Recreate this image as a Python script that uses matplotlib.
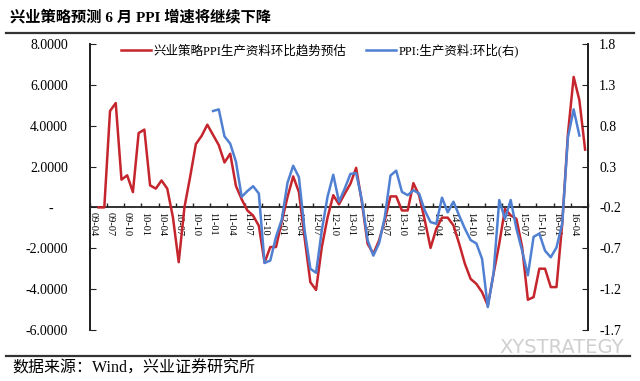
import matplotlib.pyplot as plt
import numpy as np
import pandas as pd
from matplotlib.lines import Line2D

# monthly categories 2009-04 .. 2016-06
months = pd.period_range("2009-04", "2016-06", freq="M")
tick_labels = ["09-04", "09-07", "09-10", "10-01", "10-04", "10-07", "10-10",
               "11-01", "11-04", "11-07", "11-10", "12-01", "12-04", "12-07",
               "12-10", "13-01", "13-04", "13-07", "13-10", "14-01", "14-04",
               "14-07", "14-10", "15-01", "15-04", "15-07", "15-10", "16-01",
               "16-04"]

# red: industrial strategy estimate (left axis), from 2009-05
red_start = "2009-05"
red = [0.0, 0.0, 4.72, 5.11, 1.36, 1.57, 0.75, 3.64, 3.81, 1.08,
       0.92, 1.32, 0.92, -0.5, -2.68, 0.0, 1.5, 3.1, 3.5, 4.05,
       3.55, 3.05, 2.2, 2.63, 1.05, 0.4, -0.15, -0.4, -0.9, -2.7,
       -1.94, -1.94, -0.7, 0.5, 1.52, 0.75, -1.5, -3.66, -4.04, -1.94,
       -0.5, 0.6, 0.15, 0.67, 1.16, 1.94, 0.26, -1.78, -2.27, -1.62,
       -0.64, 0.54, 0.54, -0.15, -0.15, 1.19, 0.59, -0.64, -1.98, -1.05,
       -0.5, -0.5, -0.88, -1.78, -2.76, -3.5, -3.74, -4.15, -4.8, -3.25,
       -1.78, -0.07, -0.39, -0.56, -1.94, -4.52, -4.39, -3.0, -3.0, -3.9,
       -3.9, -0.8, 3.6, 6.39, 5.25, 2.83]

# blue: PPI producer goods m/m (right axis), from 2011-01
blue_start = "2011-01"
blue = [0.98, 1.0, 0.67, 0.58, 0.36, -0.07, 0.0, 0.06, -0.03, -0.88,
        -0.85, -0.56, -0.35, 0.1, 0.31, 0.17, -0.48, -0.95, -1.0, -0.48,
        -0.07, 0.2, -0.13, 0.03, 0.21, 0.22, -0.11, -0.6, -0.79, -0.64,
        -0.32, 0.19, 0.25, -0.01, -0.05, 0.01, -0.03, -0.24, -0.38, -0.4,
        -0.08, -0.26, -0.13, -0.3, -0.46, -0.6, -0.64, -0.83, -1.42, -1.01,
        -0.11, -0.34, -0.11, -0.46, -0.73, -1.03, -0.56, -0.52, -0.73, -0.81,
        -0.69, -0.4, 0.66, 1.0, 0.68]

left_ticks = [-6, -4, -2, 0, 2, 4, 6, 8]
right_ticks = [-1.7, -1.2, -0.7, -0.2, 0.3, 0.8, 1.3, 1.8]

red_label = "兴业策略PPI生产资料环比趋势预估"
blue_label = "PPI:生产资料:环比(右)"
title = "兴业策略预测 6 月 PPI 增速将继续下降"
source = "数据来源：Wind，兴业证券研究所"

color_red = "#C5252C"
color_blue = "#5080D2"
axis_col = "#222222"
mixed = ["Liberation Serif", "Noto Sans CJK SC"]

x_all = np.arange(len(months))
x_red = x_all[list(months).index(pd.Period(red_start, "M")):][:len(red)]
x_blue = x_all[list(months).index(pd.Period(blue_start, "M")):][:len(blue)]
label_pos = [list(months.strftime("%y-%m")).index(t) for t in tick_labels]

fig = plt.figure(figsize=(6.4, 3.81), dpi=100)
ax = fig.add_axes([0.1406, 0.1339, 0.7781, 0.7506])
ax2 = ax.twinx()

ax.plot(x_red, red, color=color_red, lw=1.8, zorder=3)
ax2.plot(x_blue, blue, color=color_blue, lw=1.8, zorder=3)

ax.set_xlim(-0.5, len(months) - 0.5)
ax.set_ylim(-6, 8)
ax2.set_ylim(-1.7, 1.8)

for a in (ax, ax2):
    a.spines["top"].set_visible(False)
    for s in a.spines.values():
        s.set_color(axis_col)
        s.set_linewidth(1.3)
ax2.spines["bottom"].set_visible(False)
ax.spines["bottom"].set_position(("data", 0))

# x: tick marks at category boundaries, labels at category centres
ax.set_xticks(np.arange(-0.5, len(months), 3))
ax.set_xticklabels([])
ax.set_xticks(label_pos, minor=True)
ax.set_xticklabels(tick_labels, minor=True, rotation=-90, fontsize=7.5,
                   family="Liberation Serif")
ax.tick_params(axis="x", which="major", direction="in", length=3,
               color=axis_col, width=1)
ax.tick_params(axis="x", which="minor", length=0, pad=3)

ax.set_yticks(left_ticks)
ax.set_yticklabels([f"{v:.4f}" if v != 0 else "-    " for v in left_ticks],
                   family="Liberation Serif", fontsize=10)
ax.tick_params(axis="y", direction="in", length=4, pad=16, color=axis_col)

ax2.set_yticks(right_ticks)
ax2.set_yticklabels([f"{v:.1f}" for v in right_ticks],
                    family="Liberation Serif", fontsize=10)
ax2.tick_params(axis="y", direction="in", length=4, pad=8, color=axis_col)

handles = [Line2D([], [], color=color_red, lw=1.8),
           Line2D([], [], color=color_blue, lw=1.8)]
fig.legend(handles, [red_label, blue_label], ncol=2, frameon=False,
           loc="upper left", bbox_to_anchor=(0.171, 0.915),
           prop={"family": mixed, "size": 9}, handlelength=2.4,
           handletextpad=0.2, columnspacing=1.6)

fig.text(0.015, 0.955, title, family=mixed, fontsize=11, fontweight="bold",
         va="center", ha="left")
fig.add_artist(Line2D([0.01, 0.99], [0.913, 0.913], color="#333333", lw=1.6))
fig.add_artist(Line2D([0.01, 0.985], [0.066, 0.066], color="#333333", lw=1.6))
fig.text(0.02, 0.033, source, family=mixed, fontsize=11.5, va="center",
         ha="left")
fig.text(0.78, 0.088, "XYSTRATEGY", fontsize=14, color="#cfcfcf",
         va="center", ha="left", family="DejaVu Sans")

fig.savefig("out.png", dpi=100)
